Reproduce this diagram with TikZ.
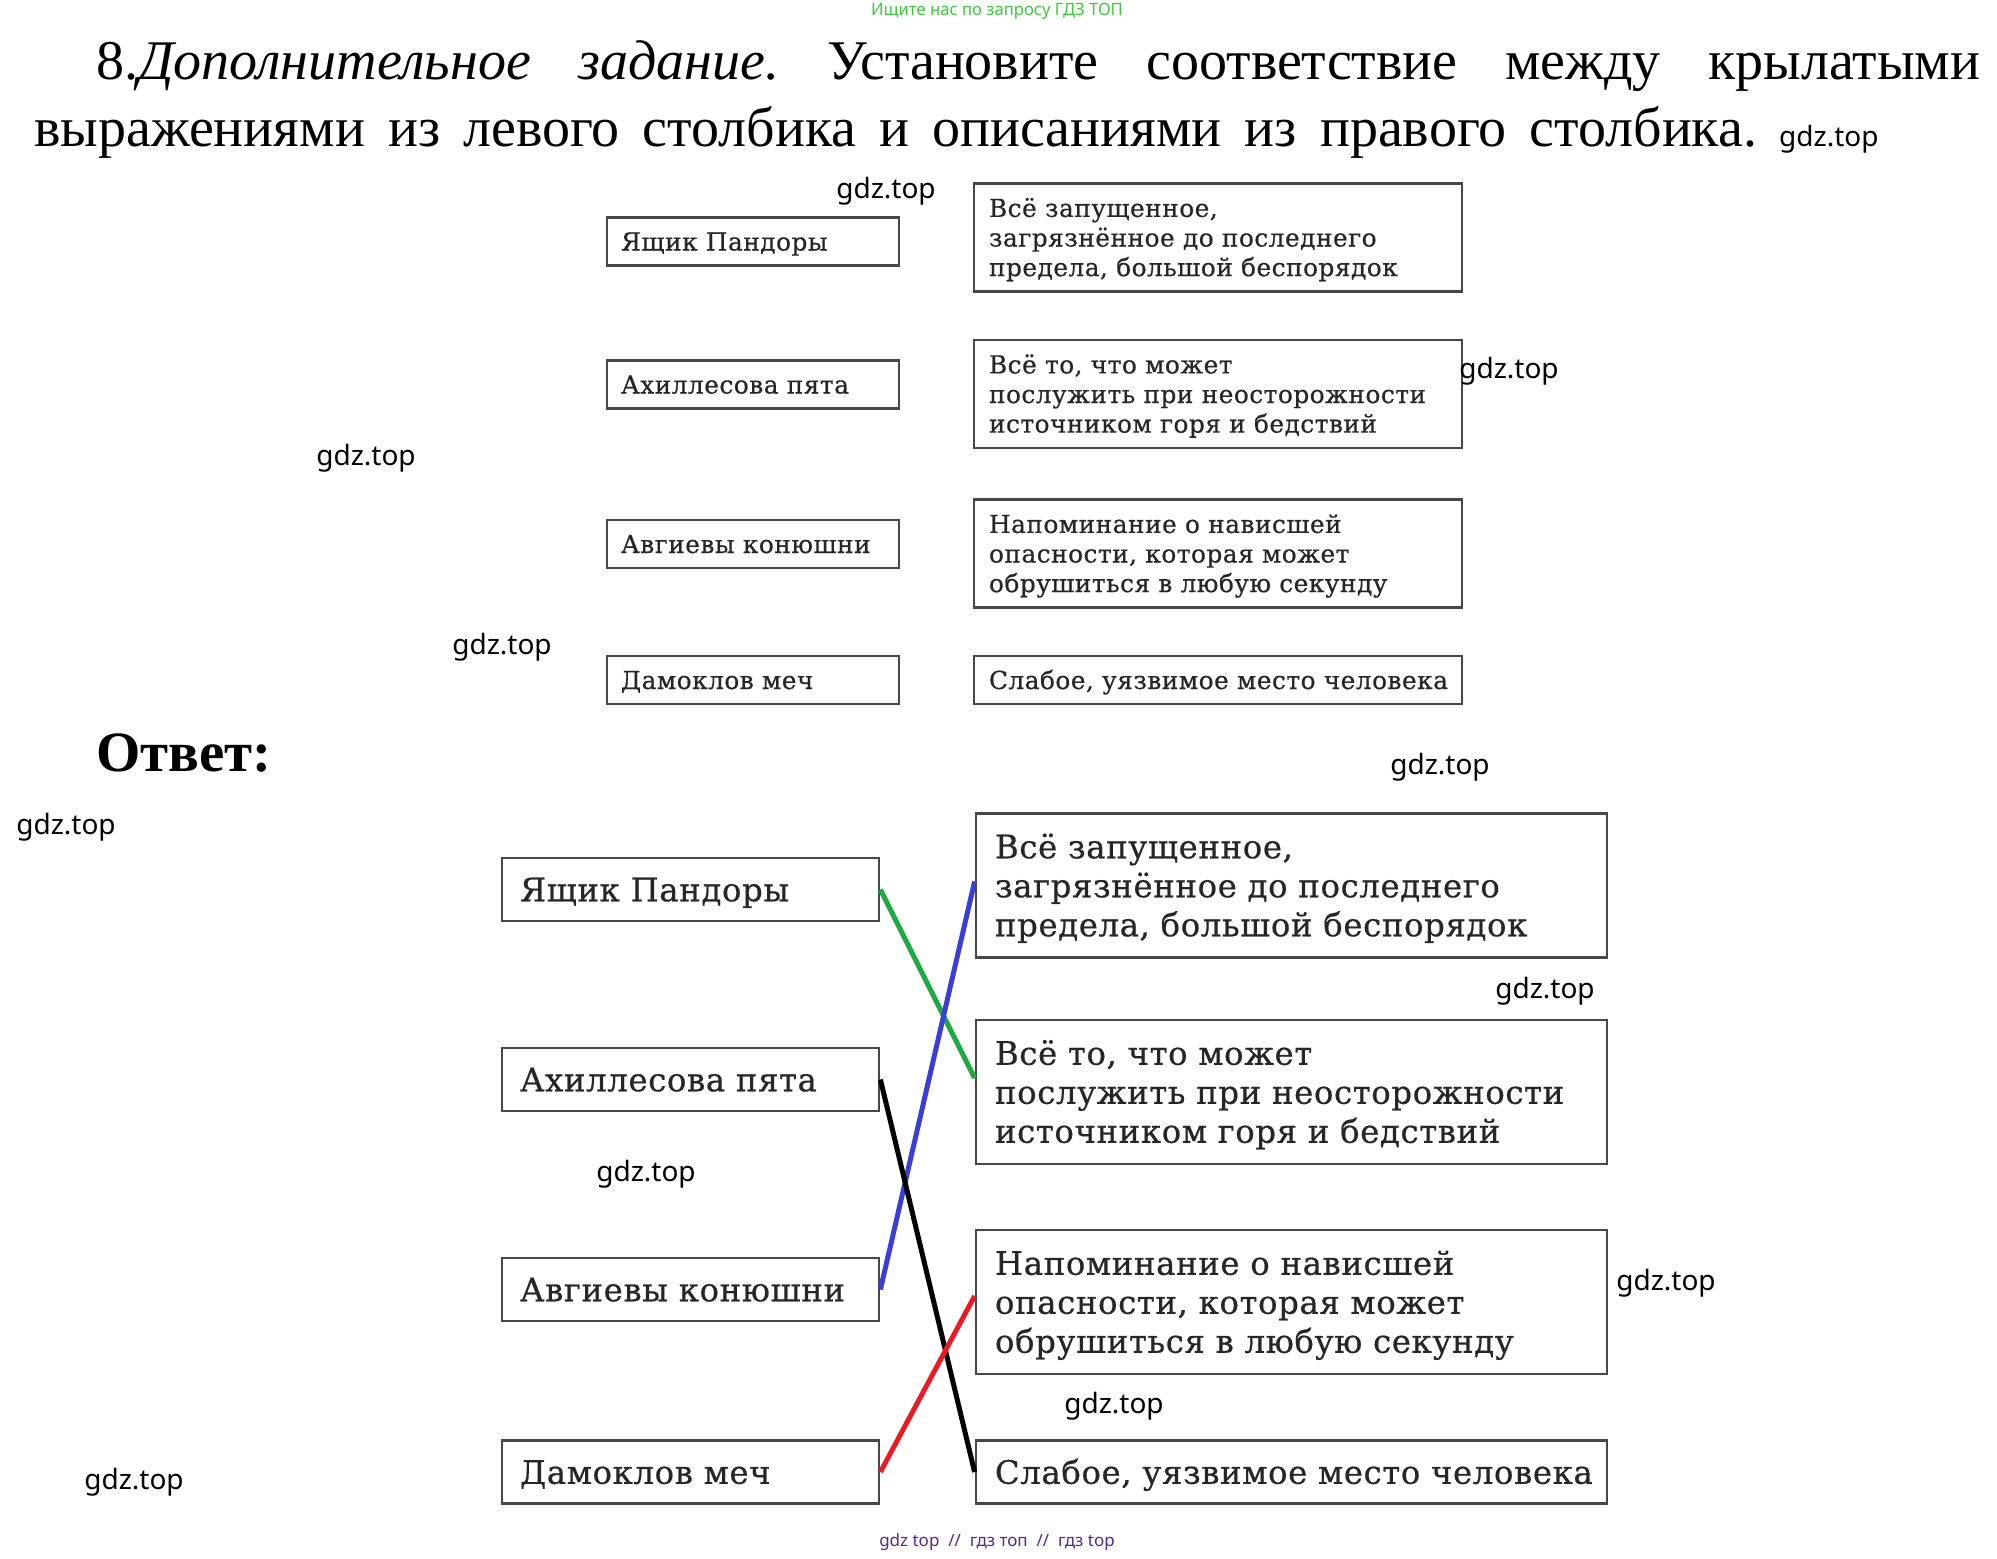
\documentclass[tikz,border=0pt]{standalone}
\usepackage{fontspec}
\usepackage{graphicx}
\setmainfont{Liberation Serif}
\newfontfamily\boxfont[WordSpace=2.8,LetterSpace=2,FakeBold=0.6]{DejaVu Serif}
\newfontfamily\wmfont{Noto Sans}
\usetikzlibrary{positioning,calc}
\definecolor{lnkgreen}{RGB}{34,168,64}
\definecolor{lnkblue}{RGB}{58,62,214}
\definecolor{lnkred}{RGB}{232,28,36}
\definecolor{adgreen}{RGB}{60,200,60}
\definecolor{adpurple}{RGB}{88,40,130}
\frenchspacing

\begin{document}
\begin{tikzpicture}[x=1pt, y=-1pt,
  qbox/.style={draw=black!72, line width=2.4pt, inner ysep=0pt, inner xsep=14pt,
               minimum height=48pt, text width=264pt, align=left, text=black!85,
               text height=18pt, text depth=0pt,
               font=\boxfont\fontsize{24.8}{29.6}\selectfont},
  qdesc/.style={qbox, inner xsep=15pt, text width=458pt, minimum height=108pt, text depth=59.2pt},
  abox/.style={draw=black!72, line width=2.8pt, inner ysep=0pt, inner xsep=18pt,
               minimum height=63pt, text width=341pt, align=left, text=black!85,
               text height=23.5pt, text depth=0pt,
               font=\boxfont\fontsize{32.3}{39}\selectfont},
  adesc/.style={abox, inner xsep=19pt, text width=593pt, minimum height=144pt, text depth=78pt},
  wm/.style={font=\wmfont\fontsize{28}{28}\selectfont, inner sep=0pt},
  link/.style={line width=5pt},
]
\useasboundingbox (0,0) rectangle (1997,1558);

% header and task text
\node[inner sep=0pt, text=adgreen, font=\wmfont\fontsize{17}{17}\selectfont] (ad) at (997,11)
  {\scalebox{0.98}[1]{Ищите нас по запросу ГДЗ ТОП}};
\node[anchor=base west, inner sep=0pt, font=\fontsize{56}{56}\selectfont] (t1) at (96,79)
  {\makebox[1884pt][s]{8.\textit{Дополнительное задание.} Установите соответствие между крылатыми}};
\node[anchor=base west, inner sep=0pt, font=\fontsize{56}{56}\selectfont] (t2) at (34,146)
  {\makebox[1723pt][s]{выражениями из левого столбика и описаниями из правого столбика.}};
\node[wm, anchor=base west] (w0) at (1779,146) {gdz.top};

% question: left and right columns
\node[qbox] (q1) at (753,241.5) {Ящик Пандоры};
\node[qbox] (q2) at (753,384.5) {Ахиллесова пята};
\node[qbox] (q3) at (753,544) {Авгиевы конюшни};
\node[qbox] (q4) at (753,680) {Дамоклов меч};
\node[qdesc] (p1) at (1218,237.5) {Всё запущенное,\\загрязнённое до последнего\\предела, большой беспорядок};
\node[qdesc] (p2) at (1218,394) {Всё то, что может\\послужить при неосторожности\\источником горя и бедствий};
\node[qdesc] (p3) at (1218,553.5) {Напоминание о нависшей\\опасности, которая может\\обрушиться в любую секунду};
\node[qbox, inner xsep=15pt, text width=458pt] (p4) at (1218,680) {\mbox{Слабое, уязвимое место человека}};

% answer
\node[anchor=base west, inner sep=0pt, font=\bfseries\fontsize{57}{57}\selectfont] (ans) at (96,771) {Ответ:};
\node[abox] (a1) at (690.5,889.5) {Ящик Пандоры};
\node[abox] (a2) at (690.5,1079.5) {Ахиллесова пята};
\node[abox] (a3) at (690.5,1289.5) {Авгиевы конюшни};
\node[abox] (a4) at (690.5,1472) {Дамоклов меч};
\node[adesc] (d1) at (1291.5,885.5) {Всё запущенное,\\загрязнённое до последнего\\предела, большой беспорядок};
\node[adesc] (d2) at (1291.5,1092) {Всё то, что может\\послужить при неосторожности\\источником горя и бедствий};
\node[adesc] (d3) at (1291.5,1302) {Напоминание о нависшей\\опасности, которая может\\обрушиться в любую секунду};
\node[abox, inner xsep=19pt, text width=593pt] (d4) at (1291.5,1472) {\mbox{Слабое, уязвимое место человека}};

% matching lines
\draw[link, lnkgreen] (a1.east) -- ($(d2.west)+(0,-14)$);
\draw[link, lnkblue] (a3.east) -- ($(d1.west)+(0,-4)$);
\draw[link, black] (a2.east) -- (d4.west);
\draw[link, lnkred] (a4.east) -- ($(d3.west)+(0,-6)$);

% watermarks
\node[wm] (w1) at (886,191) {gdz.top};
\node[wm] (w2) at (1509,371) {gdz.top};
\node[wm] (w3) at (366,458) {gdz.top};
\node[wm] (w4) at (502,647) {gdz.top};
\node[wm] (w5) at (1440,767) {gdz.top};
\node[wm] (w6) at (66,827) {gdz.top};
\node[wm] (w7) at (1545,991) {gdz.top};
\node[wm] (w8) at (646,1174) {gdz.top};
\node[wm] (w9) at (1666,1283) {gdz.top};
\node[wm] (w10) at (1114,1406) {gdz.top};
\node[wm] (w11) at (134,1482) {gdz.top};
\node[inner sep=0pt, text=adpurple, font=\wmfont\fontsize{17}{17}\selectfont] (foot) at (997,1542)
  {gdz top \ // \ гдз топ \ // \ гдз top};
\end{tikzpicture}
\end{document}
